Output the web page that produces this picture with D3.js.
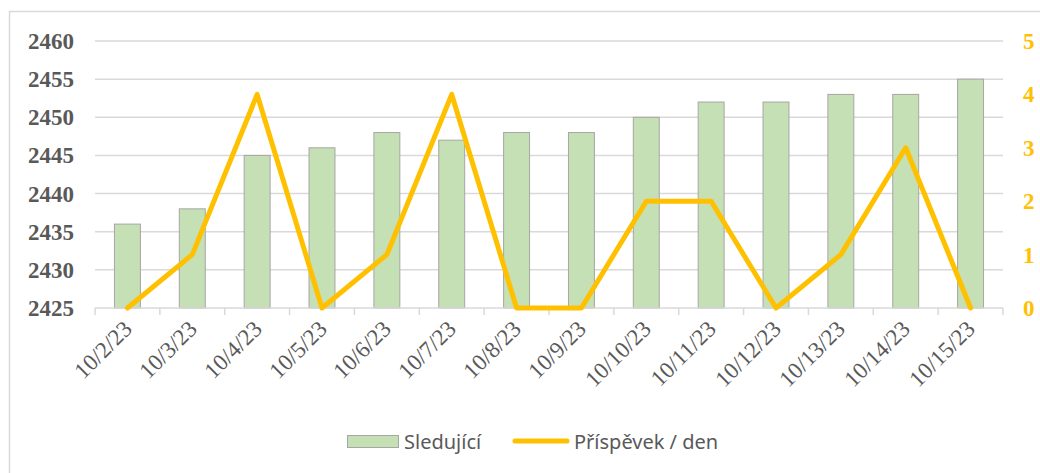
<!DOCTYPE html>
<html>
<head>
<meta charset="utf-8">
<script src="https://cdn.jsdelivr.net/npm/d3@7"></script>
<style>
  body { margin: 0; background: #fff; }
  #wrap { position: relative; width: 1040px; height: 473px; }
  svg { display: block; position: absolute; left: 0; top: 0; }
  .lbl { position: absolute; white-space: nowrap; line-height: 1;
         font-family: 'Liberation Serif', 'Times New Roman'; font-size: 23px; }
</style>
</head>
<body>
<div id="wrap"><svg id="chart" width="1040" height="473"></svg></div>
<script>
'use strict';

const dates = ['10/2/23', '10/3/23', '10/4/23', '10/5/23', '10/6/23', '10/7/23', '10/8/23',
    '10/9/23', '10/10/23', '10/11/23', '10/12/23', '10/13/23', '10/14/23', '10/15/23'];
const followers = [2436, 2438, 2445, 2446, 2448, 2447, 2448, 2448, 2450, 2452, 2452, 2453, 2453, 2455];
const postsPerDay = [0, 1, 4, 0, 1, 4, 0, 0, 2, 2, 0, 1, 3, 0];
const leftTicks = [2425, 2430, 2435, 2440, 2445, 2450, 2455, 2460];
const rightTicks = [0, 1, 2, 3, 4, 5];

const barColor = '#c5e0b4';
const lineColor = '#ffc000';
const gridColor = '#d9d9d9';
const textColor = '#595959';

const wrap = d3.select('#wrap');
const svg = d3.select('#chart');

// chart frame (runs off the right / bottom edge)
svg.append('rect')
    .attr('x', 9.5).attr('y', 11.5)
    .attr('width', 1100).attr('height', 500)
    .attr('fill', '#fff')
    .attr('stroke', gridColor)
    .attr('stroke-width', 1.5);

const plotLeft = 95, plotRight = 1003, plotTop = 41, plotBottom = 308;

const x = d3.scaleBand().domain(dates).range([plotLeft, plotRight]).paddingInner(0.6).paddingOuter(0.3);
const y = d3.scaleLinear().domain([2425, 2460]).range([plotBottom, plotTop]);
const y2 = d3.scaleLinear().domain([0, 5]).range([plotBottom, plotTop]);

// gridlines
svg.append('g')
    .selectAll('line')
    .data(leftTicks.slice(1))
    .enter().append('line')
    .attr('x1', plotLeft).attr('x2', plotRight)
    .attr('y1', d => y(d)).attr('y2', d => y(d))
    .attr('stroke', gridColor)
    .attr('stroke-width', 1.5);

// bars
svg.append('g')
    .selectAll('rect')
    .data(followers)
    .enter().append('rect')
    .attr('x', (d, i) => x(dates[i]))
    .attr('y', d => y(d))
    .attr('width', x.bandwidth())
    .attr('height', d => y(2425) - y(d))
    .attr('fill', barColor)
    .attr('stroke', '#a6a6a6')
    .attr('stroke-width', 1);

// x axis line with tick marks between categories
const xAxis = svg.append('g').attr('transform', 'translate(0,' + plotBottom + ')');
xAxis.append('line')
    .attr('x1', plotLeft).attr('x2', plotRight)
    .attr('stroke', gridColor).attr('stroke-width', 1.5);
xAxis.selectAll('.tk')
    .data(d3.range(dates.length + 1))
    .enter().append('line')
    .attr('x1', i => plotLeft + i * x.step()).attr('x2', i => plotLeft + i * x.step())
    .attr('y1', 0).attr('y2', 7)
    .attr('stroke', gridColor).attr('stroke-width', 1.5);

// line
const line = d3.line()
    .x((d, i) => x(dates[i]) + x.bandwidth() / 2)
    .y(d => y2(d));

svg.append('path')
    .datum(postsPerDay)
    .attr('d', line)
    .attr('fill', 'none')
    .attr('stroke', lineColor)
    .attr('stroke-width', 5)
    .attr('stroke-linejoin', 'round')
    .attr('stroke-linecap', 'round');

// legend
const legend = svg.append('g')
    .style('font-family', "'Noto Sans', 'Open Sans'")
    .style('font-size', '20px').attr('fill', textColor);
legend.append('rect')
    .attr('x', 347.5).attr('y', 435.5).attr('width', 51).attr('height', 12)
    .attr('fill', barColor).attr('stroke', '#a6a6a6');
legend.append('text').attr('x', 404).attr('y', 442).attr('dy', '0.35em').text('Sledující');
legend.append('line')
    .attr('x1', 515).attr('x2', 567).attr('y1', 441).attr('y2', 441)
    .attr('stroke', lineColor).attr('stroke-width', 5).attr('stroke-linecap', 'round');
legend.append('text').attr('x', 574).attr('y', 442).attr('dy', '0.35em').text('Příspěvek / den');

// axis labels as html so the serif font is used
wrap.selectAll('.xl')
    .data(dates)
    .enter().append('div')
    .attr('class', 'lbl xl')
    .style('left', d => (x(d) + x.bandwidth() / 2 + 0.5) + 'px')
    .style('top', (plotBottom + 16.5) + 'px')
    .style('transform-origin', '0 0')
    .style('transform', 'rotate(-45deg) translate(-100%, -50%)')
    .style('color', textColor)
    .text(d => d);

wrap.selectAll('.yl')
    .data(leftTicks)
    .enter().append('div')
    .attr('class', 'lbl yl')
    .style('left', '74px')
    .style('top', d => y(d) + 'px')
    .style('transform', 'translate(-100%, -50%)')
    .style('font-weight', 'bold')
    .style('color', textColor)
    .text(d => d);

wrap.selectAll('.yr')
    .data(rightTicks)
    .enter().append('div')
    .attr('class', 'lbl yr')
    .style('left', '1023px')
    .style('top', d => y2(d) + 'px')
    .style('transform', 'translate(0, -50%)')
    .style('font-weight', 'bold')
    .style('color', lineColor)
    .text(d => d);
</script>
</body>
</html>
